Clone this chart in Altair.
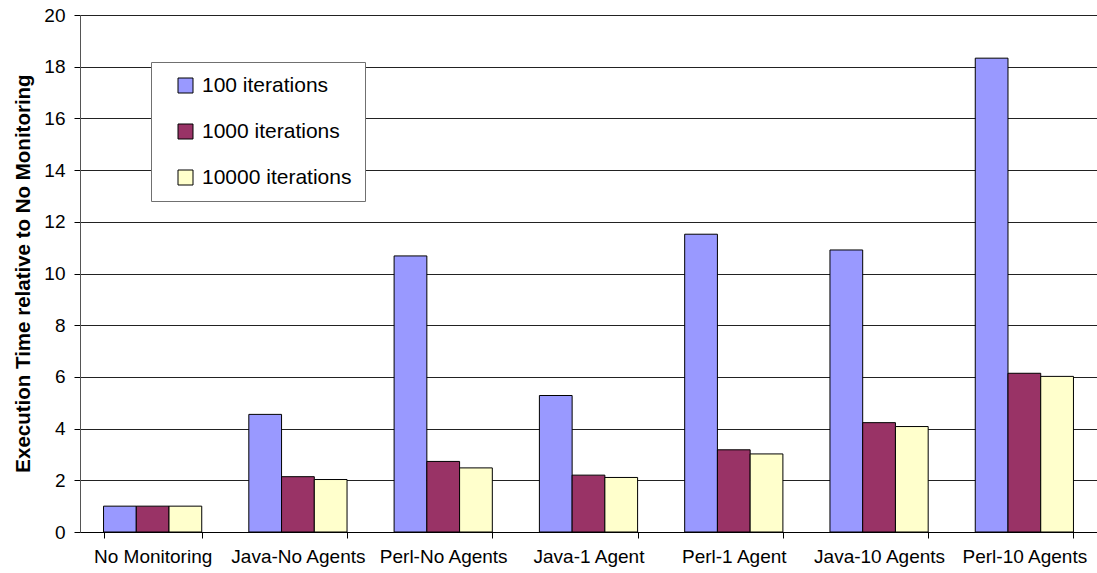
import altair as alt
import pandas as pd

# Benchmark configurations along the x axis
categories = [
    "No Monitoring",
    "Java-No Agents",
    "Perl-No Agents",
    "Java-1 Agent",
    "Perl-1 Agent",
    "Java-10 Agents",
    "Perl-10 Agents",
]

# Execution time relative to the unmonitored run, per iteration count
series_names = ["100 iterations", "1000 iterations", "10000 iterations"]
iter_100 = [1.00, 4.55, 10.68, 5.28, 11.52, 10.91, 18.33]
iter_1000 = [1.00, 2.14, 2.73, 2.20, 3.18, 4.23, 6.14]
iter_10000 = [1.00, 2.03, 2.48, 2.11, 3.02, 4.08, 6.02]

series_colors = ["#9999FF", "#993366", "#FFFFCC"]
y_ticks = list(range(0, 21, 2))

rows = []
for name, values in zip(series_names, [iter_100, iter_1000, iter_10000]):
    for cat, v in zip(categories, values):
        rows.append({"config": cat, "series": name, "value": v})
df = pd.DataFrame(rows)

FONT = "Liberation Sans"

bars = alt.Chart(df).mark_bar(stroke="#000000", strokeWidth=1).encode(
    x=alt.X(
        "config:N",
        sort=categories,
        title=None,
        scale=alt.Scale(paddingInner=0.324, paddingOuter=0.162),
        axis=alt.Axis(
            labelAngle=0,
            labelFont=FONT,
            labelFontSize=19,
            labelColor="#000000",
            labelPadding=9,
            tickBand="extent",
            tickSize=6,
            tickColor="#000000",
            domainColor="#000000",
            grid=False,
        ),
    ),
    xOffset=alt.XOffset("series:N", sort=series_names, scale=alt.Scale(paddingInner=0, paddingOuter=0)),
    y=alt.Y(
        "value:Q",
        title="Execution Time relative to No Monitoring",
        scale=alt.Scale(domain=[0, 20], nice=False),
        axis=alt.Axis(
            values=y_ticks,
            labelFont=FONT,
            labelFontSize=19,
            labelColor="#000000",
            labelPadding=9,
            tickSize=6,
            tickColor="#000000",
            domainColor="#555555",
            gridColor="#222222",
            gridWidth=1,
            titleFont=FONT,
            titleFontSize=20.5,
            titleFontWeight="bold",
            titleColor="#000000",
            titleX=-57,
            titleY=258,
            titleAngle=-90,
            titleBaseline="middle",
        ),
    ),
    color=alt.Color(
        "series:N",
        sort=series_names,
        scale=alt.Scale(domain=series_names, range=series_colors),
        legend=alt.Legend(
            title=None,
            orient="none",
            legendX=71,
            legendY=47,
            direction="vertical",
            fillColor="#FFFFFF",
            strokeColor="#707070",
            padding=13,
            symbolType="square",
            symbolSize=225,
            symbolStrokeColor="#000000",
            symbolStrokeWidth=1,
            symbolOffset=11,
            labelFont=FONT,
            labelFontSize=21,
            labelColor="#000000",
            labelOffset=6,
            rowPadding=24,
        ),
    ),
)

chart = bars.properties(
    width=1017,
    height=517,
    autosize=alt.AutoSizeParams(type="none"),
    padding={"left": 80, "top": 15, "right": 0, "bottom": 41},
).configure_view(stroke=None).configure(background="#FFFFFF")

chart.save("out.html", embed_options={"renderer": "svg", "actions": False})
